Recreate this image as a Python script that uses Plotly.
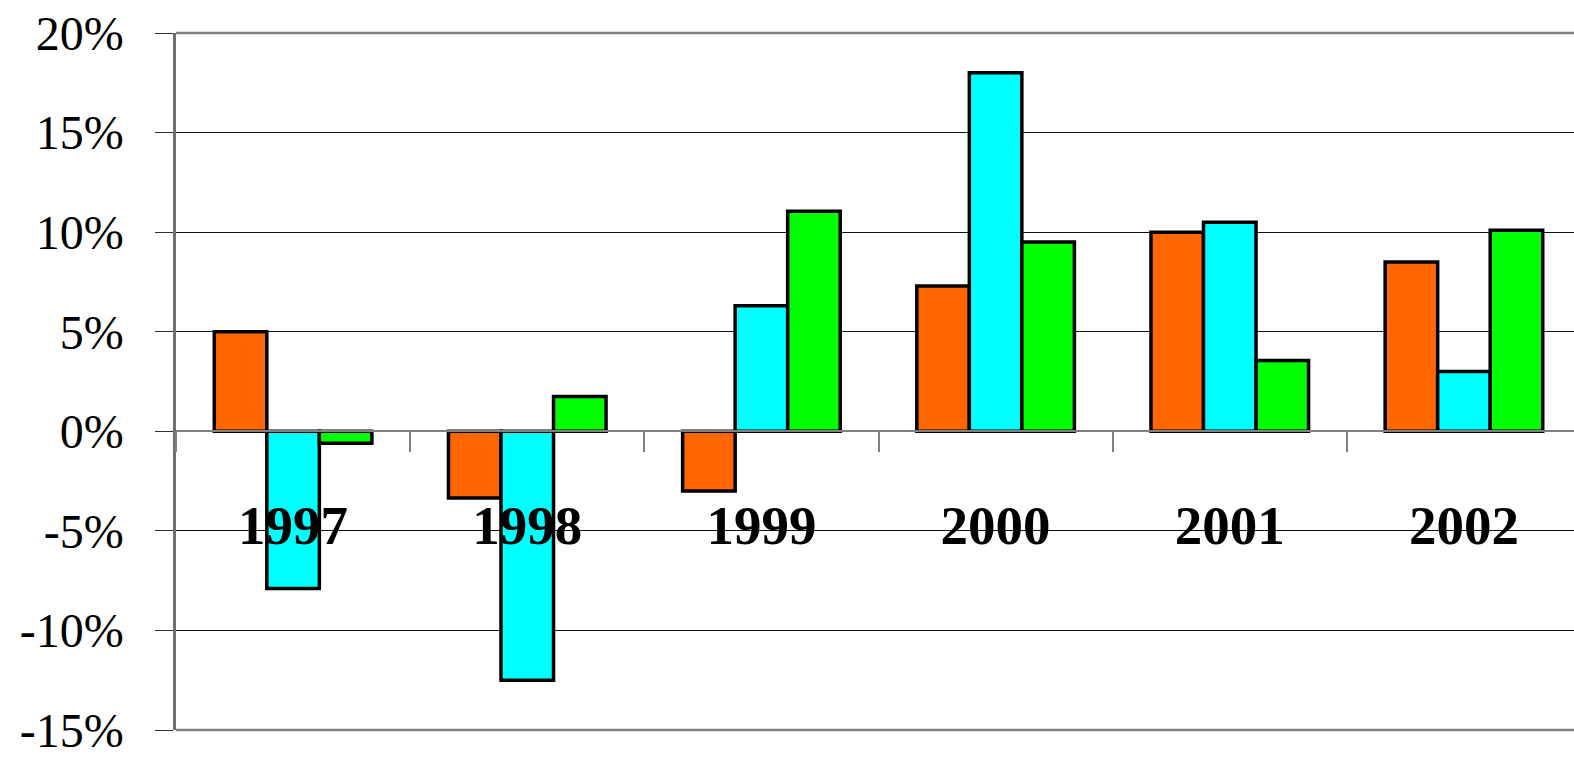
import plotly.graph_objects as go

# Annual returns by year, three series (percent)
years = ["1997", "1998", "1999", "2000", "2001", "2002"]
series_a = [5.0, -3.35, -3.0, 7.3, 10.0, 8.5]
series_b = [-7.9, -12.5, 6.3, 18.0, 10.5, 3.0]
series_c = [-0.6, 1.75, 11.05, 9.5, 3.55, 10.1]

y_ticks = [-15, -10, -5, 0, 5, 10, 15, 20]
y_tick_text = ["-15%", "-10%", "-5%", "0%", "5%", "10%", "15%", "20%"]
year_label_level = -4.95

colors = ["#FF6600", "#00FFFF", "#00FF00"]

fig = go.Figure()
for vals, col in zip([series_a, series_b, series_c], colors):
    fig.add_trace(go.Bar(
        x=years, y=vals,
        marker=dict(color=col, line=dict(color="black", width=3.5)),
        showlegend=False, hoverinfo="skip",
    ))

# Year labels sit inside the plot near the -5% gridline
fig.add_trace(go.Scatter(
    x=years, y=[year_label_level] * len(years),
    mode="text", text=years, textposition="middle center",
    textfont=dict(family="Liberation Serif", size=55, color="black", weight=700),
    showlegend=False, hoverinfo="skip", cliponaxis=False,
))

# Frame lines at top and bottom of the plot area
for yp in (0, 1):
    fig.add_shape(type="line", xref="paper", yref="paper",
                  x0=0, x1=1.02, y0=yp, y1=yp,
                  line=dict(color="#808080", width=2.5), layer="above")

fig.update_layout(
    width=1574, height=757,
    margin=dict(l=176, r=0, t=33, b=27),
    paper_bgcolor="white", plot_bgcolor="white",
    barmode="group", bargap=0.327, bargroupgap=0,
    xaxis=dict(
        type="category",
        range=[-0.5, 5.47],
        anchor="free", position=15 / 35,
        showline=True, linecolor="#808080", linewidth=2,
        ticks="outside", tickson="boundaries", ticklen=20,
        tickcolor="#808080", tickwidth=2,
        showticklabels=False, showgrid=False, zeroline=False,
    ),
    yaxis=dict(
        range=[-15, 20],
        tickvals=y_ticks, ticktext=y_tick_text,
        showgrid=True, gridcolor="#111111", gridwidth=1,
        zeroline=False,
        showline=True, linecolor="#707070", linewidth=2.5,
        ticks="outside", ticklen=18, tickcolor="#333333", tickwidth=1,
        tickfont=dict(family="Liberation Serif", size=48, color="black"),
        ticklabelstandoff=22,
    ),
)

fig.write_html("out.html")
